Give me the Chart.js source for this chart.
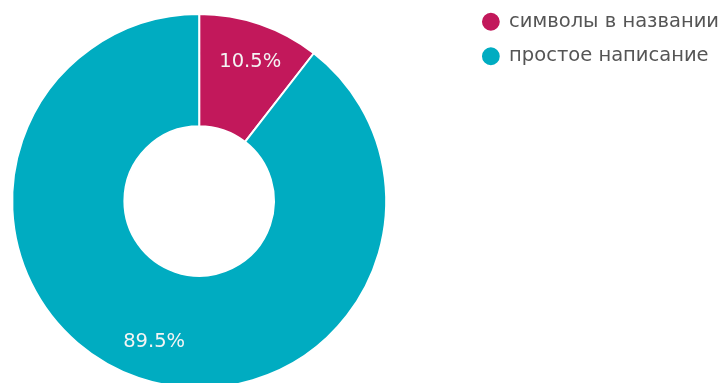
<!DOCTYPE html>
<html>
<head>
<meta charset="utf-8">
<script src="https://cdn.jsdelivr.net/npm/chart.js@4.4.1/dist/chart.umd.min.js"></script>
<style>
  html, body { margin: 0; padding: 0; background: #fff; overflow: hidden; }
  #page { position: relative; width: 726px; height: 383px; overflow: hidden; }
  /* canvas box is larger than the page and shifted so the ring sits where the original does */
  #wrap { position: absolute; left: -69.5px; top: -3px; width: 798px; height: 408px; }
</style>
</head>
<body>
<div id="page"><div id="wrap"><canvas id="pieChart"></canvas></div></div>
<script>
// Data
const labels = ['символы в названии', 'простое написание'];
const shares = [10.5, 89.5];
const colors = ['#C2185B', '#00ACC1'];

// Percent labels inside the slices
const sliceLabels = {
    id: 'sliceLabels',
    afterDatasetsDraw(chart) {
        const ctx = chart.ctx;
        const meta = chart.getDatasetMeta(0);
        ctx.save();
        ctx.font = '19.5px "DejaVu Sans"';
        ctx.fillStyle = '#f4f4f4';
        ctx.textAlign = 'center';
        ctx.textBaseline = 'middle';
        meta.data.forEach((arc, i) => {
            const p = arc.getProps(['x', 'y', 'startAngle', 'endAngle', 'innerRadius', 'outerRadius'], true);
            const mid = (p.startAngle + p.endAngle) / 2;
            const r = p.innerRadius + (p.outerRadius - p.innerRadius) * 0.655;
            ctx.fillText(shares[i].toFixed(1) + '%', p.x + Math.cos(mid) * r + 3, p.y + Math.sin(mid) * r + 1);
        });
        ctx.restore();
    }
};

const ctx = document.getElementById('pieChart').getContext('2d');
new Chart(ctx, {
    type: 'doughnut',
    data: {
        labels: labels,
        datasets: [{
            data: shares,
            backgroundColor: colors,
            borderColor: '#ffffff',
            borderWidth: 2,
            hoverOffset: 0
        }]
    },
    options: {
        responsive: true,
        maintainAspectRatio: false,
        animation: false,
        radius: 187,
        cutout: '40%',
        layout: { padding: 0 },
        plugins: {
            tooltip: { enabled: false },
            legend: {
                position: 'right',
                align: 'start',
                labels: {
                    usePointStyle: true,
                    pointStyle: 'circle',
                    boxWidth: 17,
                    boxHeight: 14,
                    padding: 15,
                    color: '#555',
                    font: { family: '"DejaVu Sans"', size: 19.5 }
                }
            }
        }
    },
    plugins: [sliceLabels]
});
</script>
</body>
</html>
